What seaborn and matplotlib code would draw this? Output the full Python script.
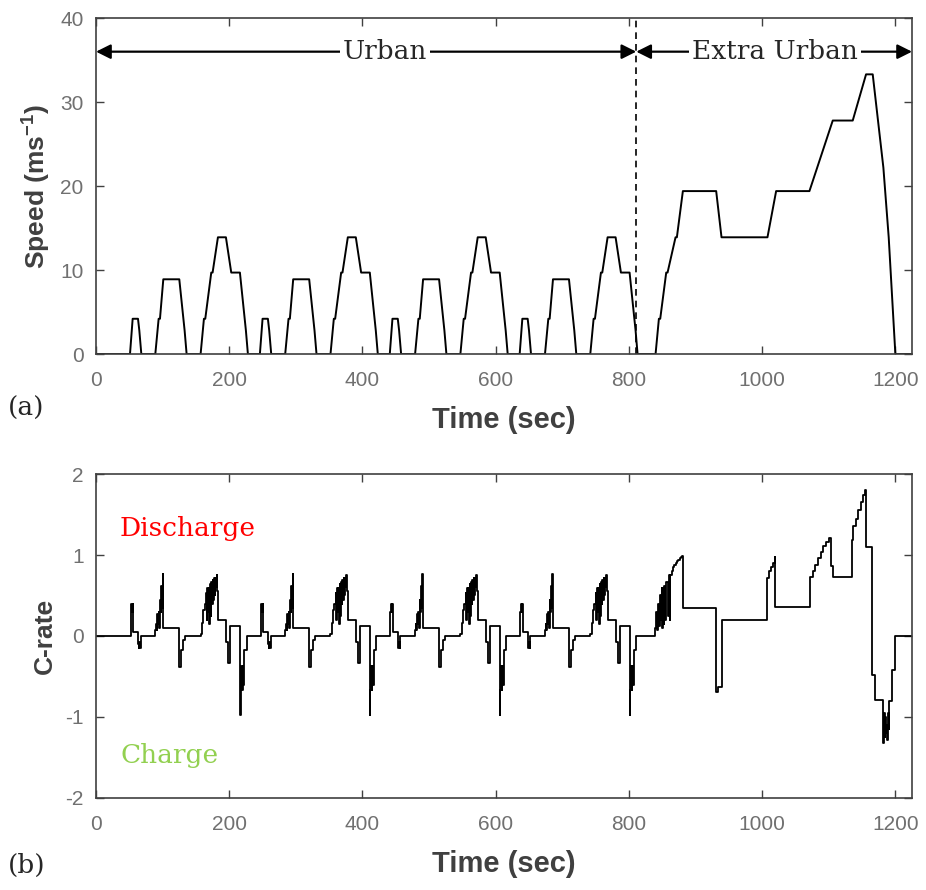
import pandas as pd
import seaborn as sbn
import matplotlib.pyplot as plt

# 1. Hiz profili (NEDC): sehir ici ECE cevrimi 4 kez, ardindan sehir disi EUDC
ECE_STARTS = [40, 235, 430, 625]
ECE_T = [0, 11, 15, 23, 25, 28, 49, 54, 56, 61, 85, 93, 96, 117, 122, 124,
         133, 135, 143, 155, 163, 176, 185, 188, 195]
ECE_V = [0, 0, 4.2, 4.2, 2.8, 0, 0, 4.2, 4.2, 8.9, 8.9, 2.8, 0, 0, 4.2, 4.2,
         9.7, 9.7, 13.9, 13.9, 9.7, 9.7, 2.8, 0, 0]

EUDC_START = 820
EUDC_T = [0, 20, 25, 27, 36, 38, 50, 52, 61, 111, 119, 188, 201, 251, 286,
          316, 336, 346, 362, 370, 380, 405]
EUDC_V = [0, 0, 4.2, 4.2, 9.7, 9.7, 13.9, 13.9, 19.4, 19.4, 13.9, 13.9, 19.4,
          19.4, 27.8, 27.8, 33.3, 33.3, 22.2, 13.9, 0, 0]

# 2. C-rate (basamak), cevrim basina goreli zaman
ECE_CT = [0, 12, 13, 14, 15, 16, 23, 24, 25, 26, 27,
          49, 50, 51, 52, 53, 54, 55, 56, 57, 58, 59, 60, 61,
          85, 88, 91, 94,
          117, 119, 121, 123, 125, 126, 127, 128, 129, 130, 131, 132, 133,
          134, 135, 136, 137, 138, 139, 140, 141, 142, 143,
          155, 158, 161, 176, 177, 178, 179, 180, 181, 182, 186, 195]
ECE_C = [0, 0.30, 0.40, 0.30, 0.40, 0.05, -0.10, -0.15, -0.08, -0.15, 0,
         0.07, 0.15, 0.07, 0.27, 0.15, 0.30, 0.10, 0.45, 0.30, 0.62, 0.35, 0.77, 0.10,
         -0.38, -0.17, -0.05, 0,
         0.03, 0.16, 0.32, 0.40, 0.53, 0.20, 0.59, 0.30, 0.59, 0.15, 0.64, 0.25, 0.67,
         0.40, 0.69, 0.45, 0.72, 0.50, 0.72, 0.60, 0.75, 0.55, 0.20,
         -0.07, -0.33, 0.12, -0.97, -0.67, -0.37, -0.67, -0.37, -0.60, -0.17, 0, 0]

EUDC_CT = [0, 19, 21, 22, 23, 24, 25, 26, 27, 28, 29, 30, 31, 32, 33, 34, 36,
           38, 40, 41, 42, 44, 46, 48, 50, 52, 54, 56, 58, 60, 61,
           111, 114, 119, 188, 190, 193, 196, 199, 200,
           252, 256, 260, 264, 268, 272, 276, 280, 284, 287,
           315, 317, 321, 324, 328, 332, 335, 336,
           345, 350, 362, 363, 364, 365, 366, 367, 368, 369, 370, 371, 375, 379, 405]
EUDC_C = [0, 0.10, 0.30, 0.07, 0.30, 0.40, 0.12, 0.45, 0.50, 0.20, 0.59, 0.10,
          0.59, 0.15, 0.62, 0.20, 0.67, 0.25, 0.75, 0.20, 0.75, 0.80, 0.85, 0.88,
          0.90, 0.92, 0.94, 0.96, 0.98, 0.99, 0.34,
          -0.69, -0.63, 0.20, 0.72, 0.80, 0.85, 0.90, 0.97, 0.36,
          0.73, 0.80, 0.88, 0.96, 1.04, 1.11, 1.16, 1.21, 0.86, 0.73,
          1.18, 1.36, 1.45, 1.55, 1.65, 1.74, 1.80, 1.10,
          -0.48, -0.79, -1.32, -0.95, -1.25, -1.00, -1.20, -1.10, -1.28, -0.95,
          -1.15, -0.80, -0.42, 0, 0]

URBAN_END = 811

# 3. Serilerin birlestirilmesi
speed_t, speed_v = [0], [0]
crate_t, crate_v = [0], [0]
for s in ECE_STARTS:
    speed_t += [s + t for t in ECE_T]
    speed_v += ECE_V
    crate_t += [s + t for t in ECE_CT]
    crate_v += ECE_C
speed_t += [EUDC_START + t for t in EUDC_T]
speed_v += EUDC_V
crate_t += [EUDC_START + t for t in EUDC_CT]
crate_v += EUDC_C

speed_df = pd.DataFrame({'t': speed_t, 'v': speed_v})
crate_df = pd.DataFrame({'t': crate_t, 'c': crate_v})

# 4. Cizim
sbn.set_style('ticks')
plt.rcParams['font.family'] = ['Liberation Sans', 'DejaVu Sans']
plt.rcParams['axes.unicode_minus'] = False
plt.rcParams['mathtext.fontset'] = 'custom'
plt.rcParams['mathtext.rm'] = 'Liberation Sans'
plt.rcParams['mathtext.bf'] = 'Liberation Sans:bold'

fig = plt.figure(figsize=(9.26, 8.90), dpi=100)
ax1 = fig.add_axes([0.1037, 0.6022, 0.8812, 0.3775])
ax2 = fig.add_axes([0.1037, 0.1034, 0.8812, 0.3640])

sbn.lineplot(data=speed_df, x='t', y='v', estimator=None, sort=False,
             color='black', lw=1.4, ax=ax1)
sbn.lineplot(data=crate_df, x='t', y='c', estimator=None, sort=False,
             color='black', lw=1.3, ax=ax2, drawstyle='steps-post')

spine_col = '#404040'
for ax in (ax1, ax2):
    ax.set_xlim(0, 1225)
    ax.set_xticks([0, 200, 400, 600, 800, 1000, 1200])
    ax.tick_params(direction='in', top=True, right=True, length=6, width=1,
                   color=spine_col, labelsize=15, labelcolor='#707070', pad=9)
    ax.tick_params(axis='x', pad=12)
    for sp in ax.spines.values():
        sp.set_color(spine_col)
        sp.set_linewidth(1.2)
    ax.set_xlabel('Time (sec)', fontsize=21, fontweight='bold', color='#404040',
                  labelpad=12)

ax1.set_ylim(0, 40)
ax1.set_yticks([0, 10, 20, 30, 40])
ax1.set_ylabel(r'Speed (ms$^{\mathbf{-1}}$)', fontsize=19, fontweight='bold',
               color='#404040', labelpad=6)
ax2.set_ylim(-2, 2)
ax2.set_yticks([-2, -1, 0, 1, 2])
ax2.set_ylabel('C-rate', fontsize=19, fontweight='bold', color='#404040',
               labelpad=6)

# Sehir ici / sehir disi ayrimi
ax1.axvline(URBAN_END, color='black', lw=1.2, ls=(0, (4, 3)))
arrow = dict(arrowstyle='<|-|>', color='black', lw=1.6, mutation_scale=22,
             shrinkA=0, shrinkB=0)
ax1.annotate('', xy=(0, 36), xytext=(URBAN_END, 36), arrowprops=arrow)
ax1.annotate('', xy=(URBAN_END, 36), xytext=(1225, 36), arrowprops=arrow)
box = dict(facecolor='white', edgecolor='none', pad=2)
ax1.text(434, 36, 'Urban', family='DejaVu Serif', fontsize=19, ha='center',
         va='center', bbox=box)
ax1.text(1019, 36, 'Extra Urban', family='DejaVu Serif', fontsize=19,
         ha='center', va='center', bbox=box)

ax2.text(36, 1.33, 'Discharge', family='DejaVu Serif', fontsize=19,
         color='#FF0000', va='center')
ax2.text(36, -1.47, 'Charge', family='DejaVu Serif', fontsize=19,
         color='#92D050', va='center')

fig.text(0.008, 0.541, '(a)', family='DejaVu Serif', fontsize=19, va='center')
fig.text(0.008, 0.028, '(b)', family='DejaVu Serif', fontsize=19, va='center')

fig.savefig('out.png', dpi=100)
